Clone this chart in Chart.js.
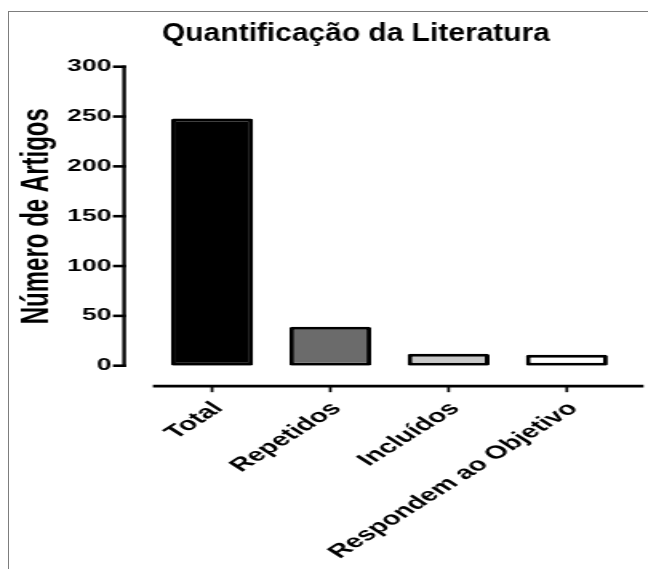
<!DOCTYPE html>
<html lang="pt">
<head>
<meta charset="utf-8">
<title>Quantificação da Literatura</title>
<script src="https://cdn.jsdelivr.net/npm/chart.js@4.4.1/dist/chart.umd.min.js"></script>
<style>
    html, body { margin: 0; padding: 0; background: #fff; }
    body { width: 648px; height: 569px; position: relative; overflow: hidden; }
    #frame { position: absolute; left: 8px; top: 11px; width: 680px; height: 600px;
             border-top: 1px solid #7d7d7d; border-left: 1px solid #7d7d7d; }
    /* the original graph is stretched sideways, so the canvas is too */
    #stretch { position: absolute; left: 0; top: 0; width: 405px; height: 569px;
               transform: scaleX(1.6); transform-origin: 0 0; }
</style>
</head>
<body>
<div id="frame"></div>
<div id="stretch"><canvas id="chart" width="405" height="569"></canvas></div>
<script>
        // Data
        const categories = ['Total', 'Repetidos', 'Incluídos', 'Respondem ao Objetivo'];
        const articleCounts = [248, 39, 12, 11];
        const yTicks = [0, 50, 100, 150, 200, 250, 300];
        const chartTitle = 'Quantificação da Literatura';
        const yTitle = 'Número de Artigos';

        Chart.defaults.font.family = '"Liberation Sans", Arial, Helvetica, sans-serif';
        Chart.defaults.color = '#000';

        // Prism style axes: y axis pulled left, x axis pulled down
        const prismAxes = {
            id: 'prismAxes',
            afterDraw(chart) {
                const { ctx, chartArea, scales: { x, y } } = chart;
                const axisX = chartArea.left - 18;
                const axisY = chartArea.bottom + 20.5;

                ctx.save();
                ctx.strokeStyle = '#000';

                // y axis + ticks
                ctx.lineWidth = 2.3;
                ctx.beginPath();
                ctx.moveTo(axisX, y.getPixelForValue(yTicks[yTicks.length - 1]) - 1.3);
                ctx.lineTo(axisX, y.getPixelForValue(0) + 1.3);
                ctx.stroke();
                ctx.lineWidth = 2.6;
                y.ticks.forEach(t => {
                    const py = y.getPixelForValue(t.value);
                    ctx.beginPath();
                    ctx.moveTo(axisX - 7, py);
                    ctx.lineTo(axisX + 1.1, py);
                    ctx.stroke();
                });

                // x axis + ticks
                ctx.lineWidth = 2.8;
                ctx.beginPath();
                ctx.moveTo(chartArea.left, axisY);
                ctx.lineTo(chartArea.right + 11, axisY);
                ctx.stroke();
                ctx.lineWidth = 1.7;
                categories.forEach((c, i) => {
                    const px = x.getPixelForValue(i);
                    ctx.beginPath();
                    ctx.moveTo(px, axisY);
                    ctx.lineTo(px, axisY + 6);
                    ctx.stroke();
                });

                // title (less stretched than the rest)
                ctx.font = 'bold 26px "Liberation Sans", Arial, sans-serif';
                ctx.fillStyle = '#000';
                ctx.textAlign = 'center';
                ctx.textBaseline = 'alphabetic';
                ctx.translate(222.5, 41);
                ctx.scale(0.72, 1);
                ctx.fillText(chartTitle, 0, 0);
                ctx.restore();
            }
        };

        new Chart(document.getElementById('chart'), {
            type: 'bar',
            data: {
                labels: categories,
                datasets: [{
                    data: articleCounts,
                    backgroundColor: ['#000000', '#6b6b6b', '#c8c8c8', '#ffffff'],
                    borderColor: '#000',
                    borderWidth: 3,
                    borderSkipped: false,
                    borderRadius: 1.5,
                    categoryPercentage: 1,
                    barPercentage: 0.693
                }]
            },
            options: {
                responsive: false,
                animation: false,
                devicePixelRatio: 1,
                layout: { padding: { left: 0, right: 13.75, top: 66.7, bottom: 0 } },
                plugins: {
                    legend: { display: false },
                    tooltip: { enabled: false },
                    title: { display: false }
                },
                scales: {
                    x: {
                        grid: { display: false, drawTicks: false },
                        border: { display: false },
                        ticks: {
                            autoSkip: false,
                            minRotation: 45,
                            maxRotation: 45,
                            padding: 32,
                            labelOffset: 4,
                            font: { size: 18.5, weight: 'bold' }
                        },
                        afterFit: s => { s.height = 203.3; }
                    },
                    y: {
                        min: 0,
                        max: 300,
                        grid: { display: false, drawTicks: false },
                        border: { display: false },
                        afterBuildTicks: s => { s.ticks = yTicks.map(v => ({ value: v })); },
                        ticks: {
                            padding: 26,
                            font: { size: 16.5, weight: 'bold' }
                        },
                        title: {
                            display: true,
                            text: yTitle,
                            font: { size: 24, weight: 'bold' },
                            padding: { top: 9, bottom: 0 }
                        },
                        afterFit: s => { s.width = 95.6; }
                    }
                }
            },
            plugins: [prismAxes]
        });
</script>
</body>
</html>
